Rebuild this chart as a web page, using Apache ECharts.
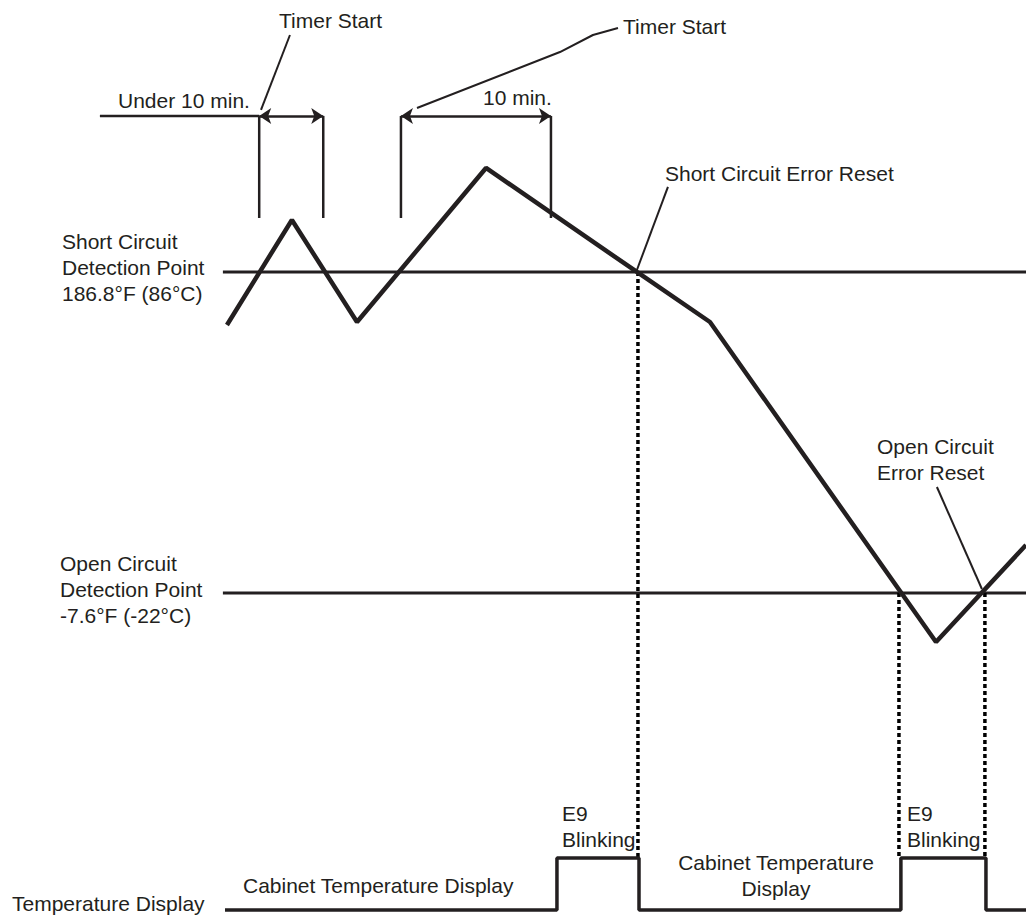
<!DOCTYPE html>
<html>
<head>
<meta charset="utf-8">
<script src="https://cdn.jsdelivr.net/npm/echarts@6/dist/echarts.min.js"></script>
<style>
  html, body { margin: 0; padding: 0; background: #fff; }
  #chart { width: 1026px; height: 915px; }
</style>
</head>
<body>
<div id="chart"></div>
<script>
// time in minutes (0 = second timer start), temperature in °F
const tempTime = [-11.6, -7.27, -2.93, 5.67, 15.73, 20.6, 35.67, 41.67];
const tempF = [154.7, 218.3, 156.5, 249.8, 186.8, 156.5, -37.3, 21.5];

const shortF = 186.8;
const openF = -7.6;
const detectStart = -11.87;

// timer brackets
const timerMarks = [-9.45, -5.18, 0, 10];
const underStart = -20.07;
const timerTop = 281.3;
const timerBottom = 219.5;
const arrowSpans = [[-9.45, -5.18], [0, 10]];

// leader lines for the notes
const leaders = [
  { t: [-7.4, -9.33], f: [330.3, 284.9] },
  { t: [1.07, 10.6, 12.8, 14.47], f: [286.1, 320.0, 330.3, 334.5] },
  { t: [17.8, 15.73], f: [238.3, 188.0] },
  { t: [35.73, 38.73], f: [56.6, -5.2] }
];

// error moments (dotted guides down to the display trace)
const errorTimes = [15.8, 33.2, 38.93];
const errorF = [186.8, -7.6, -7.6];
const boxTopF = -167.5;

// display trace: 0 = cabinet temperature, 1 = E9 blinking
const displayTime = [-11.73, 10.4, 15.87, 33.33, 39.0, 41.67];
const displayState = [0, 1, 0, 1, 0, 0];

const tMin = -26.73, tMax = 41.67;
const ink = '#231f20';
const font = '"Liberation Sans", Arial, Helvetica, sans-serif';

const chart = echarts.init(document.getElementById('chart'), null, { renderer: 'svg' });

const zip = (xs, ys) => xs.map((x, i) => [x, ys[i]]);

function seg(points, width, extra) {
  return Object.assign({
    type: 'line',
    data: points,
    showSymbol: false,
    symbol: 'none',
    silent: true,
    clip: false,
    lineStyle: { color: ink, width: width, cap: 'butt' }
  }, extra || {});
}

function note(text, x, y, align) {
  return {
    type: 'text',
    x: x,
    y: y,
    silent: true,
    style: {
      text: text,
      fill: ink,
      fontSize: 21,
      fontFamily: font,
      lineHeight: 26,
      align: align || 'left',
      verticalAlign: 'middle'
    }
  };
}

const series = [
  seg(zip(tempTime, tempF), 4.5, { z: 5 }),
  seg([[detectStart, shortF], [tMax, shortF]], 3),
  seg([[detectStart, openF], [tMax, openF]], 3),
  seg([[underStart, timerTop], [timerMarks[0], timerTop]], 2.5)
];

timerMarks.forEach(t => series.push(seg([[t, timerTop], [t, timerBottom]], 2.5)));
leaders.forEach(l => series.push(seg(zip(l.t, l.f), 2)));
errorTimes.forEach((t, i) => series.push(seg([[t, errorF[i]], [t, boxTopF]], 3.5, {
  lineStyle: { color: '#000', width: 3.5, type: [4, 3], cap: 'butt' }
})));

series.push({
  type: 'lines',
  coordinateSystem: 'cartesian2d',
  silent: true,
  symbol: ['arrow', 'arrow'],
  symbolSize: 12,
  lineStyle: { color: ink, width: 2.5, opacity: 1 },
  data: arrowSpans.map(s => ({ coords: [[s[0], timerTop], [s[1], timerTop]] }))
});

series.push(seg(zip(displayTime, displayState), 3.5, {
  xAxisIndex: 1,
  yAxisIndex: 1,
  step: 'end'
}));

chart.setOption({
  animation: false,
  backgroundColor: '#fff',
  grid: [
    { left: 0, right: 0, top: 0, bottom: 0 },
    { left: 0, right: 0, top: 858, height: 52 }
  ],
  xAxis: [
    { type: 'value', gridIndex: 0, min: tMin, max: tMax, show: false },
    { type: 'value', gridIndex: 1, min: tMin, max: tMax, show: false }
  ],
  yAxis: [
    { type: 'value', gridIndex: 0, min: -202.6, max: 351.5, show: false },
    { type: 'value', gridIndex: 1, min: 0, max: 1, show: false }
  ],
  series: series,
  graphic: [
    note('Timer Start', 279, 20),
    note('Under 10 min.', 118, 100),
    note('10 min.', 483, 97),
    note('Timer Start', 623, 26),
    note('Short Circuit Error Reset', 665, 173),
    note('Short Circuit\nDetection Point\n186.8°F (86°C)', 62, 267.5),
    note('Open Circuit\nDetection Point\n-7.6°F (-22°C)', 60, 589),
    note('Open Circuit\nError Reset', 877, 459.5),
    note('E9\nBlinking', 562, 826.5),
    note('E9\nBlinking', 907, 826.5),
    note('Cabinet Temperature Display', 243, 885),
    note('Cabinet Temperature\nDisplay', 776, 875.5, 'center'),
    note('Temperature Display', 12, 903)
  ]
});
</script>
</body>
</html>
